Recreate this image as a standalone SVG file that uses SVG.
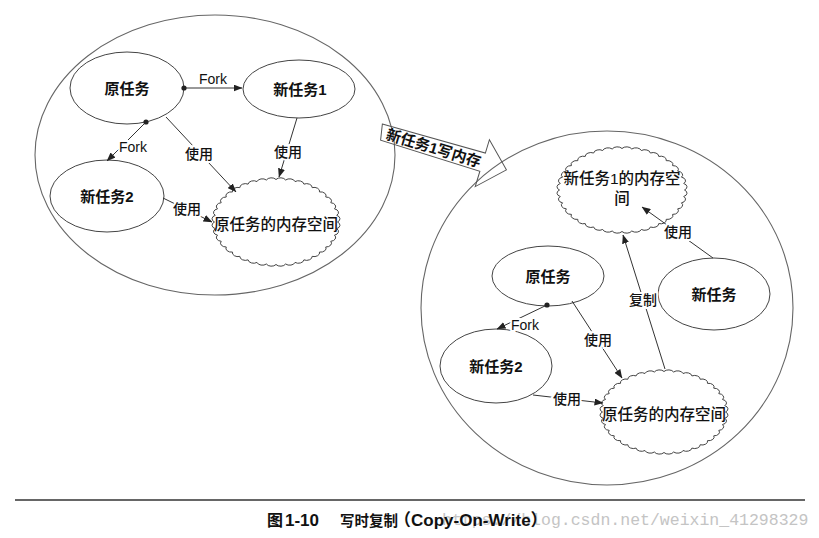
<svg xmlns="http://www.w3.org/2000/svg" xmlns:xlink="http://www.w3.org/1999/xlink" width="819" height="538" viewBox="0 0 819 538">
<style>
  .big{fill:none;stroke:#666;stroke-width:1.1}
  .node{fill:#fff;stroke:#444;stroke-width:1}
  .cloud{fill:#fff;stroke:#444;stroke-width:1;vector-effect:non-scaling-stroke}
  .t{font-family:"Liberation Sans","Noto Sans CJK SC",sans-serif;font-size:15px;font-weight:bold;fill:#111;text-anchor:middle;dominant-baseline:central}
  .ct{font-family:"Liberation Sans","Noto Sans CJK SC",sans-serif;font-size:15.5px;font-weight:500;fill:#111;text-anchor:middle;dominant-baseline:central}
  .lbl{font-family:"Liberation Sans","Noto Sans CJK SC",sans-serif;font-size:14px;font-weight:500;fill:#111;text-anchor:middle;dominant-baseline:central;stroke:#fff;stroke-width:4;paint-order:stroke}
  .edge{fill:none;stroke:#333;stroke-width:1}
  .cap{font-family:"Liberation Sans","Noto Sans CJK SC",sans-serif;font-weight:bold;fill:#111}
  .wm{font-family:"Liberation Mono",monospace;font-size:16.5px;fill:#c4c4c4}
</style>
<defs>
  <marker id="arr" markerWidth="9" markerHeight="7" refX="8.5" refY="3.5" orient="auto" markerUnits="userSpaceOnUse">
    <path d="M0,0 L9,3.5 L0,7 z" fill="#222"/>
  </marker>
  <marker id="dot" markerWidth="6" markerHeight="6" refX="3" refY="3" markerUnits="userSpaceOnUse">
    <circle cx="3" cy="3" r="2.6" fill="#222"/>
  </marker>
  <path id="cloud" class="cloud" d="M50,0 A4.5,4.5 0 0 1 49.38,7.82 A4.5,4.5 0 0 1 47.55,15.45 A4.5,4.5 0 0 1 44.55,22.70 A4.5,4.5 0 0 1 40.45,29.39 A4.5,4.5 0 0 1 35.36,35.36 A4.5,4.5 0 0 1 29.39,40.45 A4.5,4.5 0 0 1 22.70,44.55 A4.5,4.5 0 0 1 15.45,47.55 A4.5,4.5 0 0 1 7.82,49.38 A4.5,4.5 0 0 1 0,50 A4.5,4.5 0 0 1 -7.82,49.38 A4.5,4.5 0 0 1 -15.45,47.55 A4.5,4.5 0 0 1 -22.70,44.55 A4.5,4.5 0 0 1 -29.39,40.45 A4.5,4.5 0 0 1 -35.36,35.36 A4.5,4.5 0 0 1 -40.45,29.39 A4.5,4.5 0 0 1 -44.55,22.70 A4.5,4.5 0 0 1 -47.55,15.45 A4.5,4.5 0 0 1 -49.38,7.82 A4.5,4.5 0 0 1 -50,0 A4.5,4.5 0 0 1 -49.38,-7.82 A4.5,4.5 0 0 1 -47.55,-15.45 A4.5,4.5 0 0 1 -44.55,-22.70 A4.5,4.5 0 0 1 -40.45,-29.39 A4.5,4.5 0 0 1 -35.36,-35.36 A4.5,4.5 0 0 1 -29.39,-40.45 A4.5,4.5 0 0 1 -22.70,-44.55 A4.5,4.5 0 0 1 -15.45,-47.55 A4.5,4.5 0 0 1 -7.82,-49.38 A4.5,4.5 0 0 1 0,-50 A4.5,4.5 0 0 1 7.82,-49.38 A4.5,4.5 0 0 1 15.45,-47.55 A4.5,4.5 0 0 1 22.70,-44.55 A4.5,4.5 0 0 1 29.39,-40.45 A4.5,4.5 0 0 1 35.36,-35.36 A4.5,4.5 0 0 1 40.45,-29.39 A4.5,4.5 0 0 1 44.55,-22.70 A4.5,4.5 0 0 1 47.55,-15.45 A4.5,4.5 0 0 1 49.38,-7.82 A4.5,4.5 0 0 1 50,0 Z"/>
</defs>
<rect width="819" height="538" fill="#fff"/>

<!-- containers -->
<g id="scope-before"><ellipse class="big" cx="215" cy="155" rx="180" ry="140"/></g>
<g id="scope-after"><ellipse class="big" cx="607" cy="308" rx="186" ry="177"/></g>

<!-- transition arrow -->
<g id="transition" transform="translate(381,132) rotate(16.8)">
  <polygon points="-1,-8 106,-10 106,-24 131,0 106,25 106,9 2,8" fill="none" stroke="#555" stroke-width="1"/>
  <text class="t" x="55" y="0" font-size="14">新任务1写内存</text>
</g>

<!-- left nodes -->
<g id="orig-task-l"><ellipse class="node" cx="127" cy="88" rx="57" ry="36"/><text class="t" x="127" y="88">原任务</text></g>
<g id="new-task1-l"><ellipse class="node" cx="299" cy="89" rx="56" ry="29"/><text class="t" x="300" y="89">新任务1</text></g>
<g id="new-task2-l"><ellipse class="node" cx="107" cy="196" rx="57" ry="36"/><text class="t" x="107" y="196">新任务2</text></g>
<g id="orig-mem-l"><use xlink:href="#cloud" href="#cloud" transform="translate(276,222) scale(1.23,0.85)"/><text class="ct" x="276" y="224">原任务的内存空间</text></g>

<!-- right nodes -->
<g id="orig-task-r"><ellipse class="node" cx="548" cy="276" rx="56" ry="30"/><text class="t" x="548" y="276">原任务</text></g>
<g id="new-task2-r"><ellipse class="node" cx="496" cy="366" rx="56" ry="37"/><text class="t" x="496" y="366">新任务2</text></g>
<g id="new-task-r"><ellipse class="node" cx="714" cy="294" rx="56" ry="36"/><text class="t" x="714" y="294">新任务</text></g>
<g id="new1-mem-r"><use xlink:href="#cloud" href="#cloud" transform="translate(622,190) scale(1.25,0.83)"/><text class="ct" x="622" y="178">新任务1的内存空</text><text class="ct" x="622" y="198">间</text></g>
<g id="orig-mem-r"><use xlink:href="#cloud" href="#cloud" transform="translate(664,412) scale(1.23,0.81)"/><text class="ct" x="664" y="414">原任务的内存空间</text></g>

<!-- connectors -->
<g id="connectors">
  <line class="edge" x1="184" y1="88" x2="242" y2="88" marker-start="url(#dot)" marker-end="url(#arr)"/>
  <line class="edge" x1="146" y1="122" x2="107" y2="161" marker-start="url(#dot)" marker-end="url(#arr)"/>
  <line class="edge" x1="166" y1="117" x2="236" y2="192" marker-end="url(#arr)"/>
  <line class="edge" x1="297" y1="118" x2="279" y2="177" marker-end="url(#arr)"/>
  <line class="edge" x1="163" y1="198" x2="212" y2="222" marker-end="url(#arr)"/>

  <line class="edge" x1="547" y1="305" x2="497" y2="329" marker-start="url(#dot)" marker-end="url(#arr)"/>
  <line class="edge" x1="572" y1="301" x2="622" y2="378" marker-end="url(#arr)"/>
  <line class="edge" x1="533" y1="395" x2="603" y2="403" marker-end="url(#arr)"/>
  <line class="edge" x1="665" y1="369" x2="623" y2="235" marker-end="url(#arr)"/>
  <line class="edge" x1="713" y1="258" x2="642" y2="207" marker-end="url(#arr)"/>

  <text class="lbl" x="213" y="79">Fork</text>
  <text class="lbl" x="133" y="147">Fork</text>
  <text class="lbl" x="199" y="154">使用</text>
  <text class="lbl" x="288" y="152">使用</text>
  <text class="lbl" x="187" y="209">使用</text>

  <text class="lbl" x="525" y="325">Fork</text>
  <text class="lbl" x="598" y="340">使用</text>
  <text class="lbl" x="567" y="399">使用</text>
  <text class="lbl" x="643" y="300">复制</text>
  <text class="lbl" x="678" y="232">使用</text>
</g>

<!-- caption -->
<line x1="15" y1="500" x2="805" y2="500" stroke="#333" stroke-width="1.6"/>
<text class="wm" x="442" y="525">https://blog.csdn.net/weixin_41298329</text>
<text class="cap" x="267" y="526" font-size="16">图</text>
<text class="cap" x="285" y="526" font-size="17">1-10</text>
<text class="cap" x="340" y="526" font-size="14.5">写时复制</text>
<text class="cap" x="394" y="526" font-size="17">（Copy-On-Write）</text>
</svg>
